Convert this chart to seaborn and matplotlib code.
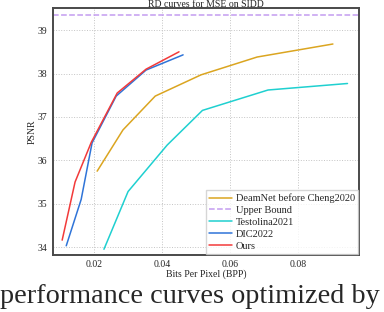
import pandas as pd
import numpy as np
import matplotlib
matplotlib.use("Agg")
import matplotlib.pyplot as plt
import seaborn as sns

# values
deamnet_bpp = [0.0209, 0.0285, 0.0380, 0.0515, 0.0680, 0.0903]
deamnet_psnr = [35.75, 36.70, 37.48, 37.97, 38.38, 38.68]
upper_bound = 39.34
testolina_bpp = [0.0229, 0.0300, 0.0415, 0.0519, 0.0712, 0.0946]
testolina_psnr = [33.95, 35.28, 36.35, 37.15, 37.62, 37.77]
dic_bpp = [0.0118, 0.0162, 0.0194, 0.0265, 0.0353, 0.0462]
dic_psnr = [34.03, 35.10, 36.40, 37.48, 38.08, 38.43]
ours_bpp = [0.0106, 0.0144, 0.0192, 0.0268, 0.0353, 0.0450]
ours_psnr = [34.16, 35.50, 36.42, 37.55, 38.10, 38.50]

sns.set_style("whitegrid")
plt.rcParams['font.family'] = ['Liberation Serif', 'DejaVu Serif']

fig = plt.figure(figsize=(3.84, 3.12), dpi=100)
ax = fig.add_axes([0.138, 0.183, 0.797, 0.79])

sns.lineplot(x=deamnet_bpp, y=deamnet_psnr, color='#dba520', lw=1.1, label='DeamNet before Cheng2020', ax=ax)
ax.plot([0.0079, 0.098], [upper_bound, upper_bound], color='#c39cf0', lw=1.1, ls='--', label='Upper Bound')
sns.lineplot(x=testolina_bpp, y=testolina_psnr, color='#1fd0d0', lw=1.1, label='Testolina2021', ax=ax)
sns.lineplot(x=dic_bpp, y=dic_psnr, color='#2f74d8', lw=1.1, label='DIC2022', ax=ax)
sns.lineplot(x=ours_bpp, y=ours_psnr, color='#f23a3a', lw=1.1, label='Ours', ax=ax)

ax.set_xlim(0.0079, 0.098)
ax.set_ylim(33.82, 39.5)
ax.set_xticks([0.02, 0.04, 0.06, 0.08])
ax.set_yticks([34, 35, 36, 37, 38, 39])
ax.grid(True, ls=':', color='#c4c4c4', lw=0.7)
for s in ax.spines.values():
    s.set_color('#4a4a4a')
    s.set_linewidth(1.4)
ax.tick_params(labelsize=7, length=2, color='#555555', pad=2)
ax.set_title('RD curves for MSE on SIDD', fontsize=7, pad=1)
ax.set_xlabel('Bits Per Pixel (BPP)', fontsize=7, labelpad=0)
ax.set_ylabel('PSNR', fontsize=7, labelpad=1)
ax.legend(loc='lower right', fontsize=7.5, frameon=True, fancybox=False,
          borderpad=0.3, labelspacing=0.25, handlelength=2.2, handletextpad=0.4,
          borderaxespad=0.1, edgecolor='#cccccc')

fig.text(0.0, 0.05, 'performance curves optimized by', fontsize=20.3,
         ha='left', va='center', family=['Liberation Serif'])

fig.savefig('out.png', dpi=100)
